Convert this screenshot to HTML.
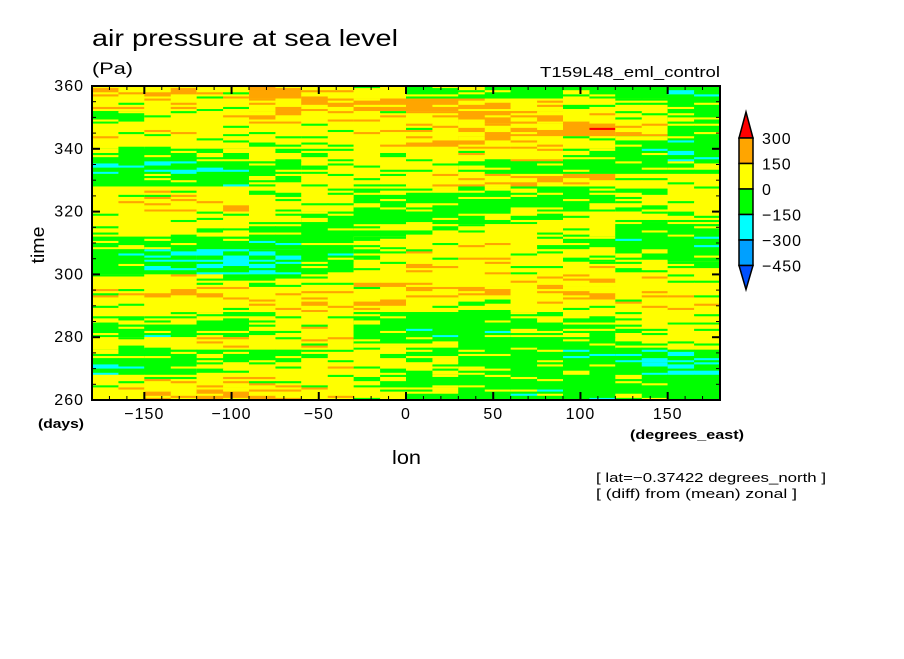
<!DOCTYPE html>
<html><head><meta charset="utf-8"><style>
body{margin:0;background:#fff;}
svg text{font-family:"Liberation Sans",sans-serif;fill:#000;}
</style></head><body>
<svg id="chart" width="904" height="654" viewBox="0 0 904 654">
<rect width="904" height="654" fill="#fff"/>
<text x="92" y="46" font-size="23" textLength="306" lengthAdjust="spacingAndGlyphs">air pressure at sea level</text>
<text x="92" y="74" font-size="17" textLength="41" lengthAdjust="spacingAndGlyphs">(Pa)</text>
<text x="540" y="77" font-size="15" textLength="180" lengthAdjust="spacingAndGlyphs">T159L48_eml_control</text>
<g id="cells"></g>
<g id="axes"></g>
<text x="44" y="245" font-size="18" text-anchor="middle" textLength="37" lengthAdjust="spacingAndGlyphs" transform="rotate(-90 44 245)">time</text>
<text x="392" y="464" font-size="19" textLength="29" lengthAdjust="spacingAndGlyphs">lon</text>
<text x="38" y="428" font-size="13" font-weight="bold" textLength="46" lengthAdjust="spacingAndGlyphs">(days)</text>
<text x="630" y="439" font-size="13" font-weight="bold" textLength="114" lengthAdjust="spacingAndGlyphs">(degrees_east)</text>
<text x="596" y="482" font-size="13" textLength="230" lengthAdjust="spacingAndGlyphs">[ lat=−0.37422 degrees_north ]</text>
<text x="596" y="498" font-size="13" textLength="201" lengthAdjust="spacingAndGlyphs">[ (diff) from (mean) zonal ]</text>
<g id="cbar"></g>
</svg>
<script>
const lonEdges=[-180,-150,-120,-90,-60,-30,0,30,60,90,120,150,180];
const timeTop=[360,356,352,348,344,340,336,332,328,324,320,316,312,308,304,300,296,292,288,284,280,276,272,268,264,260];
const values=[
[100,120,80,200,120,60,-50,-60,-80,-50,-80,-100],
[80,100,60,120,160,200,200,150,100,50,20,-50],
[-50,50,100,150,100,80,100,200,150,100,50,-20],
[50,80,40,60,50,100,80,120,150,250,100,-50],
[80,60,50,30,60,100,120,150,100,50,-30,-80],
[-60,-40,-20,20,30,40,60,80,100,-40,-80,-100],
[-120,-150,-100,-60,20,60,40,-30,-60,-80,-60,-40],
[-80,-60,-100,-20,40,60,80,100,150,120,60,40],
[60,80,60,40,30,20,-20,-40,-60,-60,20,50],
[80,100,120,60,40,-30,-60,-80,-60,-40,40,60],
[40,60,50,30,-50,-80,-60,-40,20,60,40,20],
[60,80,40,-20,-60,-40,30,60,80,60,-40,-80],
[-40,-20,-60,-100,-40,20,60,80,40,-40,-80,-100],
[-100,-150,-180,-160,-80,30,80,100,60,20,-40,-60],
[-80,-100,-160,-140,-60,40,100,80,60,80,40,20],
[60,80,20,-40,60,120,80,60,100,120,80,60],
[80,120,100,80,100,60,120,150,100,150,100,80],
[60,40,80,100,120,150,60,40,80,60,80,100],
[40,20,-20,40,60,-40,-80,-60,-40,20,60,40],
[-40,-80,-20,40,80,-60,-100,-80,-60,-20,20,60],
[40,60,100,60,80,-20,-40,-60,-80,-40,20,60],
[-20,-40,-60,-40,20,40,-20,-40,-60,-120,-150,-100],
[-100,-60,40,60,80,40,20,-40,-80,-60,-120,-150],
[60,80,100,80,40,20,-40,-60,-40,-80,-60,-80],
[80,100,150,120,100,60,-20,-60,-80,-100,-60,-80]
];
const levels=[-450,-300,-150,0,150,300];
const levelColors=["#0050ff","#00a0ff","#00ffff","#00ff00","#ffff00","#ffa500","#ff0000"];
const xTicks=[-150,-100,-50,0,50,100,150];
const yTicks=[260,280,300,320,340,360];
// visual streak texture (not data): offsets applied to stripes within each cell
const streak=[-70,40,-20,80,-50,10,60,-35,25,-90,50,-10,70,-60,30,-25];
const X0=92,X1=720,Y0=86,Y1=400;
const sx=v=>X0+(v+180)/360*(X1-X0);
const sy=t=>Y0+(360-t)/100*(Y1-Y0);
function color(v){let i=0;while(i<levels.length&&v>=levels[i])i++;return levelColors[i];}
const NS="http://www.w3.org/2000/svg";
function mk(tag,attrs,parent){const e=document.createElementNS(NS,tag);for(const k in attrs)e.setAttribute(k,attrs[k]);parent.appendChild(e);return e;}
const cells=document.getElementById('cells');
values.forEach((row,r)=>row.forEach((v,c)=>{
 const x=sx(lonEdges[c]),w=sx(lonEdges[c+1])-x+0.5;
 const y0=sy(timeTop[r]),y1=sy(timeTop[r+1]);
 const g=mk('g',{},cells);
 
 
 mk('rect',{x:x,y:y0,width:w,height:y1-y0+0.5,fill:color(v)},g);
 const n=6,h=(y1-y0)/n;
 for(let k=0;k<n;k++){
  const off=streak[(k*3+c*5+r*7)%streak.length];
  const off2=streak[(k*5+c*3+r*11+4)%streak.length];
  const seg=w/2;
  mk('rect',{x:x,y:y0+k*h,width:seg+0.5,height:h+0.3,fill:color(v+off)},g);
  mk('rect',{x:x+seg,y:y0+k*h,width:seg,height:h+0.3,fill:color(v+off2)},g);
 }
}));
const ax=document.getElementById('axes');
const fr=mk('rect',{x:X0,y:Y0,width:X1-X0,height:Y1-Y0,fill:'none',stroke:'#000','stroke-width':2},ax);


for(let l=-170;l<180;l+=10){const maj=l%50===0;const len=maj?8:4;
 mk('line',{x1:sx(l),x2:sx(l),y1:Y1,y2:Y1-len,stroke:'#000','stroke-width':maj?2:1},ax);
 mk('line',{x1:sx(l),x2:sx(l),y1:Y0,y2:Y0+len,stroke:'#000','stroke-width':maj?2:1},ax);}
for(let t=265;t<360;t+=5){const maj=t%20===0;const len=maj?8:4;
 mk('line',{x1:X0,x2:X0+len,y1:sy(t),y2:sy(t),stroke:'#000','stroke-width':maj?2:1},ax);
 mk('line',{x1:X1,x2:X1-len,y1:sy(t),y2:sy(t),stroke:'#000','stroke-width':maj?2:1},ax);}
xTicks.forEach(l=>{const t=mk('text',{x:sx(l),y:419,'font-size':16,'text-anchor':'middle','letter-spacing':1},ax);t.textContent=l<0?'−'+(-l):String(l);
 
 });
yTicks.forEach(v=>{const t=mk('text',{x:84,y:sy(v)+5,'font-size':16,'text-anchor':'end','letter-spacing':1},ax);t.textContent=String(v);
 
 });
const cb=document.getElementById('cbar');
const cbX=739,cbW=14,cbTop=138,seg=25.5;
const tri1=mk('polygon',{points:`${cbX},${cbTop} ${cbX+cbW},${cbTop} ${cbX+cbW/2},112`,fill:levelColors[6],stroke:'#000','stroke-width':1.5},cb);


for(let i=0;i<5;i++){const r=mk('rect',{x:cbX,y:cbTop+i*seg,width:cbW,height:seg,fill:levelColors[5-i],stroke:'#000','stroke-width':1.5},cb);
 
 }
const yb=cbTop+5*seg;
const tri2=mk('polygon',{points:`${cbX},${yb} ${cbX+cbW},${yb} ${cbX+cbW/2},${yb+24}`,fill:levelColors[0],stroke:'#000','stroke-width':1.5},cb);


levels.slice().reverse().forEach((v,i)=>{const t=mk('text',{x:762,y:cbTop+i*seg+6,'font-size':16,'letter-spacing':1},cb);t.textContent=v<0?'−'+(-v):String(v);
 
 });
</script>
</body></html>
